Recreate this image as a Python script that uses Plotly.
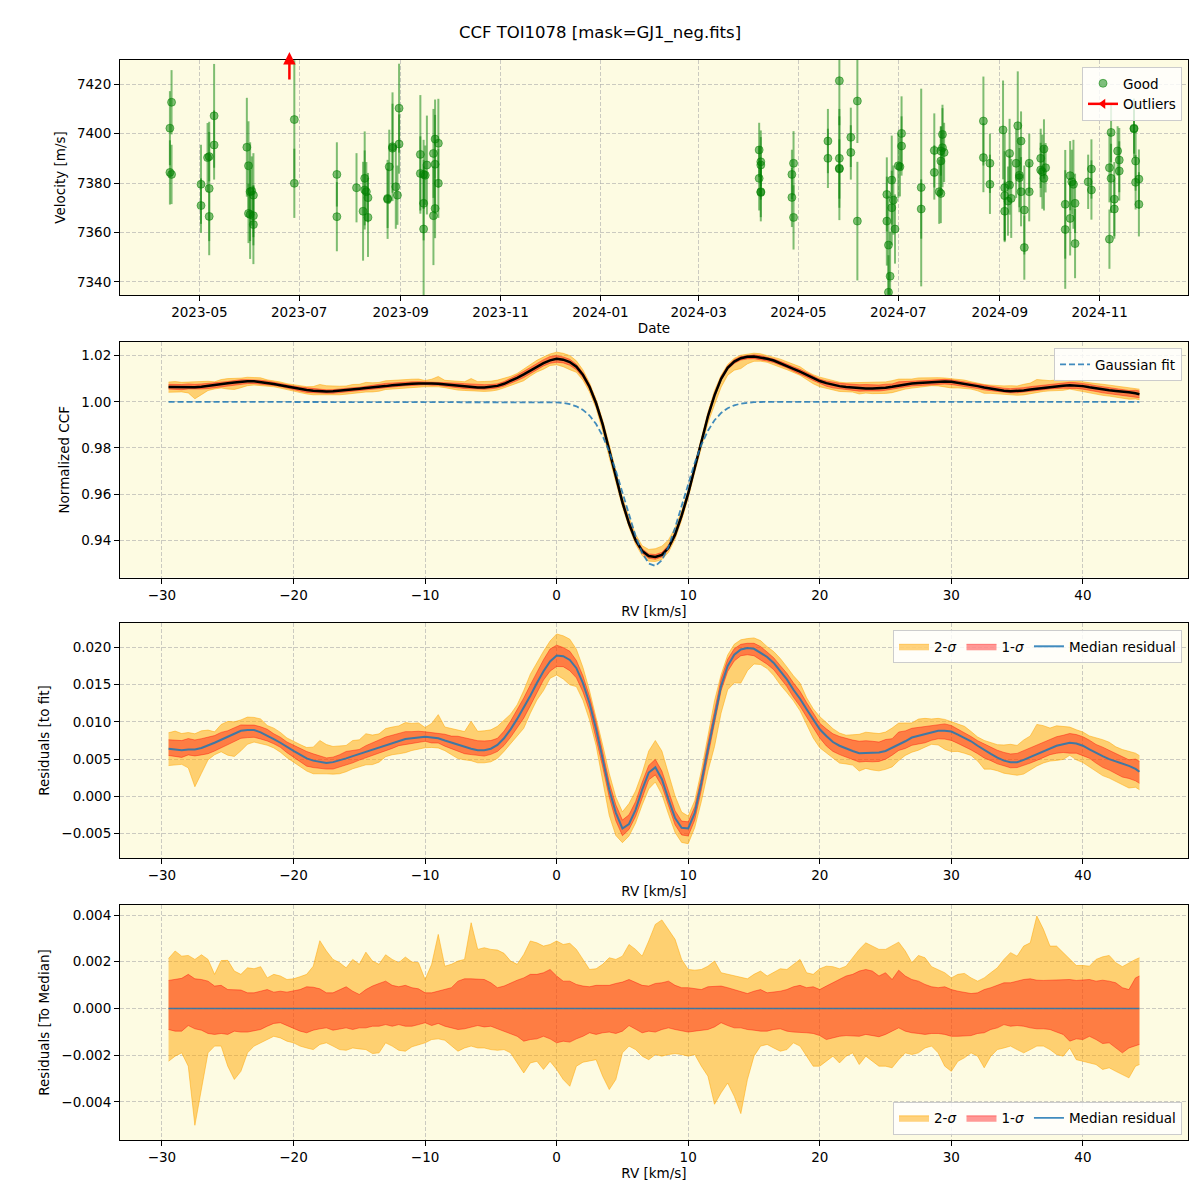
import numpy as np
import plotly.graph_objects as go

# ---------------- Panel 1: RV time series ----------------
dates = [
    "2023-04-13", "2023-04-14", "2023-04-13", "2023-04-14", "2023-05-02", "2023-05-02", "2023-05-06", "2023-05-07",
    "2023-05-07", "2023-05-07", "2023-05-10", "2023-05-10", "2023-05-30", "2023-05-31", "2023-06-01", "2023-06-02",
    "2023-06-03", "2023-05-31", "2023-06-01", "2023-06-03", "2023-06-03", "2023-06-28", "2023-06-28", "2023-07-24",
    "2023-07-24", "2023-08-05", "2023-08-09", "2023-08-10", "2023-08-10", "2023-08-11", "2023-08-12", "2023-08-12",
    "2023-08-24", "2023-08-24", "2023-08-25", "2023-08-27", "2023-08-27", "2023-08-29", "2023-08-30", "2023-08-31",
    "2023-08-31", "2023-09-13", "2023-09-13", "2023-09-15", "2023-09-16", "2023-09-15", "2023-09-15", "2023-09-17",
    "2023-09-21", "2023-09-22", "2023-09-22", "2023-09-24", "2023-09-24", "2023-09-22", "2023-09-21",
    "2024-04-07", "2024-04-07", "2024-04-08", "2024-04-08", "2024-04-08", "2024-04-08", "2024-04-28", "2024-04-27",
    "2024-04-27", "2024-04-28", "2024-05-19", "2024-05-19", "2024-05-26", "2024-05-26", "2024-05-26", "2024-05-26",
    "2024-06-02", "2024-06-02", "2024-06-06", "2024-06-06", "2024-06-24", "2024-06-24", "2024-06-25", "2024-06-26",
    "2024-06-25", "2024-06-27", "2024-06-27", "2024-06-28", "2024-06-29", "2024-07-01", "2024-07-02", "2024-07-03",
    "2024-07-03", "2024-07-15", "2024-07-15", "2024-07-23", "2024-07-23", "2024-07-26", "2024-07-27", "2024-07-27",
    "2024-07-28", "2024-07-28", "2024-07-29", "2024-07-27", "2024-08-22", "2024-08-22", "2024-08-26", "2024-08-26",
    "2024-09-03", "2024-09-04", "2024-09-04", "2024-09-04", "2024-09-06", "2024-09-07", "2024-09-07", "2024-09-08",
    "2024-09-11", "2024-09-12", "2024-09-13", "2024-09-13", "2024-09-14", "2024-09-14", "2024-09-16", "2024-09-16",
    "2024-09-19", "2024-09-19", "2024-09-26", "2024-09-26", "2024-09-27", "2024-09-28", "2024-09-28", "2024-09-29",
    "2024-10-11", "2024-10-11", "2024-10-14", "2024-10-14", "2024-10-15", "2024-10-16", "2024-10-17", "2024-10-17",
    "2024-10-25", "2024-10-27", "2024-10-27", "2024-11-07", "2024-11-07", "2024-11-08", "2024-11-08", "2024-11-10",
    "2024-11-10", "2024-11-12", "2024-11-13", "2024-11-13", "2024-11-22", "2024-11-22", "2024-11-23", "2024-11-23",
    "2024-11-25", "2024-11-25",
]
velocity = [
    7402.2, 7412.7, 7384.3, 7383.5, 7379.5, 7370.9, 7390.3, 7390.7,
    7377.8, 7366.5, 7407.2, 7395.4, 7394.5, 7387.0, 7376.5, 7376.8,
    7375.1, 7367.7, 7367.3, 7366.8, 7363.2, 7405.7, 7379.9, 7383.5,
    7366.4, 7378.1, 7368.6, 7377.2, 7381.9, 7376.5, 7374.1, 7366.1,
    7373.4, 7373.8, 7386.6, 7394.7, 7394.1, 7378.5, 7375.1, 7410.3,
    7395.8, 7391.6, 7383.9, 7383.5, 7383.2, 7371.8, 7361.4, 7387.3,
    7392.0, 7387.6, 7397.8, 7396.1, 7379.9, 7369.7, 7366.8,
    7393.4, 7381.9, 7388.6, 7387.3, 7376.5, 7376.2, 7388.0, 7383.5,
    7374.2, 7366.1, 7397.0, 7390.0, 7421.4, 7390.0, 7386.0, 7385.7,
    7398.5, 7392.4, 7413.2, 7364.6, 7375.4, 7364.6, 7354.9, 7342.3,
    7335.8, 7381.2, 7370.0, 7373.1, 7361.4, 7387.0, 7386.6, 7400.1,
    7395.0, 7378.2, 7369.5, 7393.2, 7384.3, 7376.5, 7375.8, 7388.9,
    7399.7, 7394.3, 7392.4, 7393.0, 7405.1, 7390.3, 7388.0, 7379.5,
    7401.5, 7378.1, 7374.9, 7368.6, 7372.7, 7392.0, 7379.2, 7373.8,
    7388.0, 7403.2, 7383.2, 7382.2, 7397.0, 7376.5, 7369.1, 7353.9,
    7376.5, 7388.0, 7390.0, 7385.3, 7384.6, 7393.8, 7381.9, 7386.2,
    7371.4, 7361.2, 7383.0, 7365.7, 7380.5, 7379.5, 7371.8, 7355.5,
    7380.5, 7385.7, 7377.2, 7357.3, 7386.2, 7400.5, 7381.9, 7373.5,
    7369.5, 7393.0, 7389.3, 7384.9, 7402.2, 7401.9, 7388.9, 7380.3,
    7381.6, 7371.4,
]
vel_err = [
    15, 13, 13, 12, 16, 11, 14, 10,
    27, 10, 21, 14, 20, 18, 20, 14,
    17, 12, 18, 12, 16, 24, 14, 13,
    14, 14, 20, 16, 19, 12, 10, 16,
    16, 12, 15, 22, 18, 17, 12, 18,
    12, 24, 15, 14, 12, 15, 28, 20,
    18, 20, 16, 18, 14, 12, 20,
    11, 13, 10, 14, 12, 10, 13, 10,
    12, 13, 13, 12, 18, 20, 21, 12,
    12, 11, 17, 24, 15, 18, 20, 18,
    15, 18, 15, 14, 14, 13, 12, 15,
    12, 40, 12, 15, 11, 13, 12, 14,
    12, 16, 12, 10, 18, 14, 12, 12,
    20, 22, 18, 12, 14, 14, 12, 16,
    14, 22, 15, 12, 12, 14, 18, 13,
    12, 12, 12, 11, 15, 12, 13, 10,
    22, 24, 14, 15, 13, 18, 12, 14,
    11, 12, 12, 12, 14, 12, 14, 15,
    12, 10, 13, 12, 12, 10, 12, 11,
    12, 13,
]
outlier_dates = ["2023-06-25"]

# ---------------- CCF panels (RV grid, 0.5 km/s) ----------------
rv = [round(v, 2) for v in np.arange(-29.5, 44.01, 0.5)] + [44.3]

gauss_fit = [
    1.0, 1.0, 1.0, 1.0, 1.0, 1.0, 1.0, 1.0, 1.0, 1.0,
    1.0, 1.0, 1.0, 1.0, 1.0, 1.0, 1.0, 1.0, 1.0, 1.0,
    1.0, 1.0, 1.0, 1.0, 1.0, 1.0, 1.0, 1.0, 1.0, 1.0,
    1.0, 1.0, 1.0, 1.0, 1.0, 1.0, 1.0, 1.0, 1.0, 1.0,
    1.0, 1.0, 1.0, 1.0, 1.0, 1.0, 1.0, 1.0, 1.0, 1.0,
    1.0, 1.0, 1.0, 1.0, 1.0, 1.0, 1.0, 0.99995, 0.99989, 0.99975,
    0.99948, 0.99896, 0.99804, 0.99649, 0.99403, 0.99035, 0.98518, 0.97840, 0.97009, 0.96067,
    0.95090, 0.94177, 0.93442, 0.92987, 0.92877, 0.93130, 0.93708, 0.94527, 0.95479, 0.96453,
    0.97358, 0.98131, 0.98744, 0.99199, 0.99514, 0.99721, 0.99847, 0.99921, 0.99961, 0.99982,
    0.99992, 0.99997, 1.0, 1.0, 1.0, 1.0, 1.0, 1.0, 1.0, 1.0,
    1.0, 1.0, 1.0, 1.0, 1.0, 1.0, 1.0, 1.0, 1.0, 1.0,
    1.0, 1.0, 1.0, 1.0, 1.0, 1.0, 1.0, 1.0, 1.0, 1.0,
    1.0, 1.0, 1.0, 1.0, 1.0, 1.0, 1.0, 1.0, 1.0, 1.0,
    1.0, 1.0, 1.0, 1.0, 1.0, 1.0, 1.0, 1.0, 1.0, 1.0,
    1.0, 1.0, 1.0, 1.0, 1.0, 1.0, 1.0, 1.0,
    1.0,
]

# median residual to fit, in units of 1e-3
median_resid_e3 = [
    6.4, 6.3, 6.2, 6.3, 6.3, 6.5, 6.8, 7.2, 7.6, 8.0,
    8.4, 8.8, 8.9, 8.9, 8.6, 8.2, 7.7, 7.2, 6.6, 6.1,
    5.6, 5.1, 4.8, 4.6, 4.5, 4.6, 4.8, 5.1, 5.4, 5.7,
    6.0, 6.2, 6.5, 6.8, 7.2, 7.5, 7.7, 7.8, 7.9, 8.0,
    7.9, 7.8, 7.5, 7.2, 6.9, 6.6, 6.4, 6.2, 6.2, 6.4,
    6.9, 7.8, 9.0, 10.4, 11.9, 13.5, 15.2, 16.8, 18.1, 18.9,
    18.8, 18.3, 17.2, 15.2, 12.5, 9.0, 5.0, 0.9, -2.2, -4.3,
    -3.7, -1.8, 0.9, 3.2, 3.9, 2.3, -0.4, -2.9, -4.2, -4.3,
    -2.2, 1.8, 6.3, 10.8, 14.8, 17.5, 19.0, 19.7, 19.9, 19.8,
    19.3, 18.7, 17.9, 16.8, 15.7, 14.3, 13.1, 11.7, 10.3, 9.0,
    8.1, 7.3, 6.8, 6.4, 6.1, 5.8, 5.8, 5.8, 5.9, 6.1,
    6.5, 7.0, 7.4, 7.9, 8.1, 8.3, 8.6, 8.8, 8.8, 8.7,
    8.3, 7.9, 7.4, 6.8, 6.2, 5.7, 5.2, 4.8, 4.6, 4.6,
    4.9, 5.3, 5.7, 6.1, 6.5, 6.8, 7.0, 7.2, 7.1, 6.8,
    6.3, 5.8, 5.4, 5.0, 4.7, 4.5, 4.1, 3.7,
    3.3,
]

# percentile offsets relative to the median residual, in units of 1e-3
sig2_hi_e3 = [
    2.14, 2.46, 2.24, 2.27, 2.10, 2.30, 2.10, 1.46, 2.05, 2.06,
    1.60, 1.46, 1.74, 1.70, 1.79, 1.31, 1.46, 1.39, 1.24, 1.27,
    1.36, 1.46, 1.81, 2.90, 2.46, 2.10, 1.96, 1.74, 2.10, 1.89,
    2.41, 2.03, 1.89, 2.30, 2.10, 1.96, 2.20, 1.99, 1.96, 1.24,
    1.89, 3.17, 1.81, 1.89, 2.03, 2.10, 3.67, 2.53, 2.60, 2.53,
    2.50, 2.36, 2.03, 1.89, 2.31, 2.89, 2.81, 2.67, 2.74, 2.89,
    2.74, 2.79, 2.53, 2.10, 1.67, 1.70, 1.89, 2.17, 2.10, 2.24,
    2.74, 2.53, 2.24, 2.89, 3.60, 3.79, 3.39, 2.96, 2.10, 1.67,
    1.64, 1.67, 1.81, 2.03, 1.53, 1.46, 1.41, 1.31, 1.27, 1.46,
    1.60, 1.39, 1.53, 1.70, 1.67, 1.89, 2.10, 1.53, 1.46, 1.70,
    1.81, 1.79, 1.70, 1.81, 2.17, 2.53, 2.81, 2.67, 2.53, 2.53,
    2.67, 2.84, 2.46, 1.96, 2.27, 2.17, 1.79, 1.67, 1.53, 1.31,
    1.46, 1.50, 1.31, 1.17, 1.31, 1.53, 1.74, 2.10, 2.39, 2.24,
    2.67, 2.81, 3.96, 3.39, 2.67, 2.67, 2.39, 2.10, 1.84, 1.84,
    1.81, 2.10, 2.21, 2.27, 1.96, 1.79, 1.96, 2.10,
    2.17,
]
sig1_hi_e3 = [
    1.20, 1.24, 1.29, 1.46, 1.27, 1.24, 1.17, 0.96, 0.99, 0.81,
    0.81, 0.79, 0.67, 0.67, 0.74, 0.81, 0.70, 0.74, 0.70, 0.74,
    0.81, 0.93, 0.91, 0.84, 0.67, 0.67, 0.79, 0.93, 0.74, 0.60,
    0.81, 0.96, 1.07, 1.17, 0.99, 0.93, 0.99, 0.89, 0.84, 0.67,
    0.67, 0.74, 0.84, 0.89, 1.17, 1.27, 1.27, 1.27, 1.24, 1.10,
    0.89, 0.96, 1.10, 1.21, 1.31, 1.46, 1.46, 1.53, 1.67, 1.39,
    1.17, 1.17, 1.03, 0.96, 0.93, 0.99, 0.99, 0.99, 1.07, 1.13,
    1.24, 1.10, 0.99, 0.96, 1.07, 1.10, 1.17, 0.99, 0.89, 0.89,
    0.84, 0.81, 0.93, 0.93, 0.96, 0.89, 0.81, 0.70, 0.64, 0.74,
    0.81, 0.67, 0.70, 0.74, 0.81, 0.93, 0.99, 0.89, 0.93, 0.81,
    0.96, 1.10, 1.24, 1.39, 1.46, 1.60, 1.67, 1.60, 1.39, 1.53,
    1.24, 1.64, 1.39, 1.24, 1.17, 1.03, 0.93, 0.89, 0.93, 0.81,
    0.74, 0.70, 0.64, 0.67, 0.81, 0.89, 0.99, 1.10, 1.10, 1.17,
    1.24, 1.27, 1.21, 1.20, 1.21, 1.21, 1.20, 1.24, 1.20, 1.21,
    1.24, 1.17, 1.21, 1.17, 1.10, 0.89, 0.81, 1.31,
    1.39,
]
sig1_lo_e3 = [
    -0.90, -0.97, -0.97, -0.73, -0.87, -0.93, -1.07, -1.11, -1.07, -1.11,
    -0.97, -1.01, -1.01, -0.97, -0.90, -0.76, -0.64, -0.61, -0.73, -0.83,
    -0.97, -1.04, -0.93, -0.87, -0.83, -0.93, -0.87, -0.83, -0.90, -0.83,
    -0.83, -0.76, -0.76, -0.69, -0.76, -0.69, -0.76, -0.76, -0.69, -0.61,
    -0.73, -0.64, -0.76, -0.83, -0.90, -0.87, -0.79, -0.73, -0.79, -0.76,
    -0.87, -0.97, -1.07, -1.19, -1.40, -1.33, -1.30, -1.19, -1.30, -1.47,
    -1.40, -1.44, -1.30, -1.19, -1.04, -1.11, -1.04, -1.01, -1.07, -0.97,
    -0.73, -0.90, -1.04, -0.97, -1.01, -0.90, -0.83, -0.90, -0.97, -1.01,
    -0.97, -0.93, -0.90, -0.79, -0.61, -0.73, -0.83, -0.83, -0.90, -0.93,
    -0.97, -0.97, -0.90, -0.87, -0.97, -1.01, -1.01, -1.04, -1.07, -1.16,
    -1.33, -1.26, -1.19, -1.16, -1.16, -1.19, -1.11, -1.16, -1.21, -1.11,
    -0.97, -0.83, -0.97, -1.04, -1.07, -1.11, -1.07, -1.07, -1.11, -1.19,
    -1.19, -1.19, -1.16, -1.07, -1.04, -0.90, -0.83, -0.69, -0.76, -0.73,
    -0.76, -0.83, -0.87, -0.87, -0.90, -1.01, -1.11, -1.40, -1.30, -1.33,
    -1.19, -1.33, -1.50, -1.47, -1.69, -1.90, -1.69, -1.61,
    -1.54,
]
sig2_lo_e3 = [
    -2.26, -2.04, -1.90, -2.47, -5.00, -3.40, -1.90, -1.61, -1.61, -2.47,
    -3.04, -2.69, -1.90, -1.61, -1.47, -1.33, -1.19, -1.26, -1.40, -1.47,
    -1.61, -1.69, -1.76, -1.54, -1.47, -1.61, -1.76, -1.79, -1.69, -1.73,
    -1.76, -1.93, -1.90, -1.47, -1.61, -1.79, -1.83, -1.64, -1.54, -1.47,
    -1.33, -1.30, -1.36, -1.61, -1.83, -1.69, -1.61, -1.69, -1.69, -1.76,
    -1.79, -1.76, -1.90, -2.33, -2.76, -2.33, -2.26, -2.61, -2.26, -2.61,
    -3.04, -3.33, -2.47, -2.30, -2.26, -2.19, -2.90, -3.47, -3.04, -1.90,
    -1.61, -1.76, -2.04, -2.19, -1.97, -2.04, -1.97, -1.93, -1.97, -2.04,
    -1.97, -2.47, -2.90, -4.10, -3.61, -3.19, -3.76, -4.50, -3.04, -2.04,
    -1.61, -1.54, -1.69, -1.83, -1.76, -1.47, -1.61, -2.04, -2.47, -2.47,
    -2.26, -2.04, -2.33, -2.04, -1.90, -2.40, -2.04, -2.26, -2.47, -2.47,
    -2.54, -2.19, -1.90, -1.97, -1.90, -1.69, -1.61, -1.90, -2.47, -2.69,
    -2.26, -2.11, -1.90, -2.04, -2.54, -2.04, -1.76, -1.69, -1.61, -1.76,
    -1.90, -1.76, -1.61, -1.61, -1.76, -1.97, -2.04, -1.69, -2.19, -2.26,
    -2.33, -2.40, -2.61, -2.54, -2.69, -2.83, -2.97, -2.47,
    -2.40,
]

n = len(rv)
for arr in (gauss_fit, median_resid_e3, sig2_hi_e3, sig1_hi_e3, sig1_lo_e3, sig2_lo_e3):
    assert len(arr) == n, (len(arr), n)

fit = np.array(gauss_fit)
res = np.array(median_resid_e3) * 1e-3
o2h = np.array(sig2_hi_e3) * 1e-3
o1h = np.array(sig1_hi_e3) * 1e-3
o1l = np.array(sig1_lo_e3) * 1e-3
o2l = np.array(sig2_lo_e3) * 1e-3
ccf = fit + res

# ---------------- styling ----------------
FONT = "DejaVu Sans"
BG = "#FDFBE2"
C2 = "rgba(255,165,0,0.5)"
C1 = "rgba(255,0,0,0.4)"
BLUE = "rgba(31,119,180,0.85)"
GREEN = "rgba(0,128,0,0.5)"

fig = go.Figure()


def add_band(xa, ya, lo, hi, color, name, legend, showlegend):
    fig.add_trace(go.Scatter(x=rv, y=lo, mode="lines", line=dict(color=color, width=1),
                             showlegend=False, hoverinfo="skip", xaxis=xa, yaxis=ya, legend=legend))
    fig.add_trace(go.Scatter(x=rv, y=hi, mode="lines", line=dict(color=color, width=1),
                             fill="tonexty", fillcolor=color, name=name, showlegend=showlegend,
                             hoverinfo="skip", xaxis=xa, yaxis=ya, legend=legend))


# Panel 1
fig.add_trace(go.Scatter(
    x=dates, y=velocity, mode="markers", name="Good",
    marker=dict(size=8, color=GREEN, line=dict(color=GREEN, width=1)),
    error_y=dict(type="data", array=vel_err, color=GREEN, thickness=2, width=0),
    xaxis="x", yaxis="y", legend="legend"))
fig.add_trace(go.Scatter(
    x=[None], y=[None], mode="lines+markers", name="Outliers",
    line=dict(color="red", width=2.5), marker=dict(symbol="triangle-left", size=9, color="red"),
    xaxis="x", yaxis="y", legend="legend"))
for d in outlier_dates:
    fig.add_annotation(x=d, y=(1140 - 52) / 1080, xref="x", yref="paper", ax=0, ay=29, showarrow=True,
                       arrowhead=2, arrowsize=1, arrowwidth=2.5, arrowcolor="red", text="")

# Panel 2
add_band("x2", "y2", ccf + o2l, ccf + o2h, C2, "2-σ", "legend2", False)
add_band("x2", "y2", ccf + o1l, ccf + o1h, C1, "1-σ", "legend2", False)
fig.add_trace(go.Scatter(x=rv, y=ccf, mode="lines", line=dict(color="black", width=2.5),
                         showlegend=False, xaxis="x2", yaxis="y2"))
fig.add_trace(go.Scatter(x=rv, y=fit, mode="lines", name="Gaussian fit",
                         line=dict(color=BLUE, width=1.8, dash="6px,3px"),
                         xaxis="x2", yaxis="y2", legend="legend2"))

# Panel 3
add_band("x3", "y3", res + o2l, res + o2h, C2, "2-<i>σ</i>", "legend3", True)
add_band("x3", "y3", res + o1l, res + o1h, C1, "1-<i>σ</i>", "legend3", True)
fig.add_trace(go.Scatter(x=rv, y=res, mode="lines", name="Median residual",
                         line=dict(color=BLUE, width=2), xaxis="x3", yaxis="y3", legend="legend3"))

# Panel 4
add_band("x4", "y4", o2l, o2h, C2, "2-<i>σ</i>", "legend4", True)
add_band("x4", "y4", o1l, o1h, C1, "1-<i>σ</i>", "legend4", True)
fig.add_trace(go.Scatter(x=rv, y=res - res, mode="lines", name="Median residual",
                         line=dict(color=BLUE, width=1.6), xaxis="x4", yaxis="y4", legend="legend4"))

TICKFONT = dict(family=FONT, size=13.5, color="black")
axis_common = dict(showline=True, linecolor="black", linewidth=1, mirror=True,
                   ticks="outside", ticklen=5, tickwidth=1, tickcolor="black",
                   showgrid=True, gridcolor="rgba(170,170,170,0.6)", griddash="4px,2px",
                   gridwidth=1, zeroline=False, tickfont=TICKFONT)


def title(t, standoff):
    return dict(text=t, font=dict(family=FONT, size=13.5, color="black"), standoff=standoff)


rv_range = [-33.19, 47.99]
legend_common = dict(bgcolor="rgba(255,255,255,0.8)", bordercolor="#cccccc", borderwidth=1,
                     traceorder="normal", font=dict(family=FONT, size=13.5, color="black"))

fig.update_layout(
    width=1200, height=1200,
    margin=dict(l=120, r=12, t=60, b=60),
    paper_bgcolor="white", plot_bgcolor=BG,
    font=dict(family=FONT, size=13.5, color="black"),
    title=dict(text="CCF TOI1078 [mask=GJ1_neg.fits]", x=0.5, xref="container", xanchor="center",
               y=1 - 32 / 1200, yref="container", yanchor="middle",
               font=dict(family=FONT, size=16.5, color="black")),
    xaxis=dict(domain=[0, 1], anchor="y", type="date", range=["2023-03-13 12:00", "2024-12-25 00:00"],
               tickformat="%Y-%m", dtick="M2", tick0="2023-01-01", title=title("Date", 4), **axis_common),
    yaxis=dict(domain=[0.7824, 1.0], anchor="x", range=[7334.7, 7429.8], dtick=20,
               title=title("Velocity [m/s]", 8), **axis_common),
    xaxis2=dict(domain=[0, 1], anchor="y2", range=rv_range, dtick=10, title=title("RV [km/s]", 4), **axis_common),
    yaxis2=dict(domain=[0.5208, 0.7389], anchor="x2", range=[0.92377, 1.02594], dtick=0.02, tickformat=".2f",
                title=title("Normalized CCF", 8), **axis_common),
    xaxis3=dict(domain=[0, 1], anchor="y3", range=rv_range, dtick=10, title=title("RV [km/s]", 4), **axis_common),
    yaxis3=dict(domain=[0.2611, 0.4787], anchor="x3", range=[-0.00826, 0.02326], dtick=0.005, tickformat=".3f",
                title=title("Residuals [to fit]", 8), **axis_common),
    xaxis4=dict(domain=[0, 1], anchor="y4", range=rv_range, dtick=10, title=title("RV [km/s]", 4), **axis_common),
    yaxis4=dict(domain=[0.0, 0.2176], anchor="x4", range=[-0.00563, 0.00443], dtick=0.002, tickformat=".3f",
                title=title("Residuals [To Median]", 8), **axis_common),
    legend=dict(x=0.9944, xanchor="right", y=0.9935, yanchor="top", **legend_common),
    legend2=dict(x=0.9944, xanchor="right", y=0.7333, yanchor="top", **legend_common),
    legend3=dict(orientation="h", x=0.9944, xanchor="right", y=0.4722, yanchor="top", **legend_common),
    legend4=dict(orientation="h", x=0.9944, xanchor="right", y=0.005, yanchor="bottom", **legend_common),
)

fig.write_html("out.html")
